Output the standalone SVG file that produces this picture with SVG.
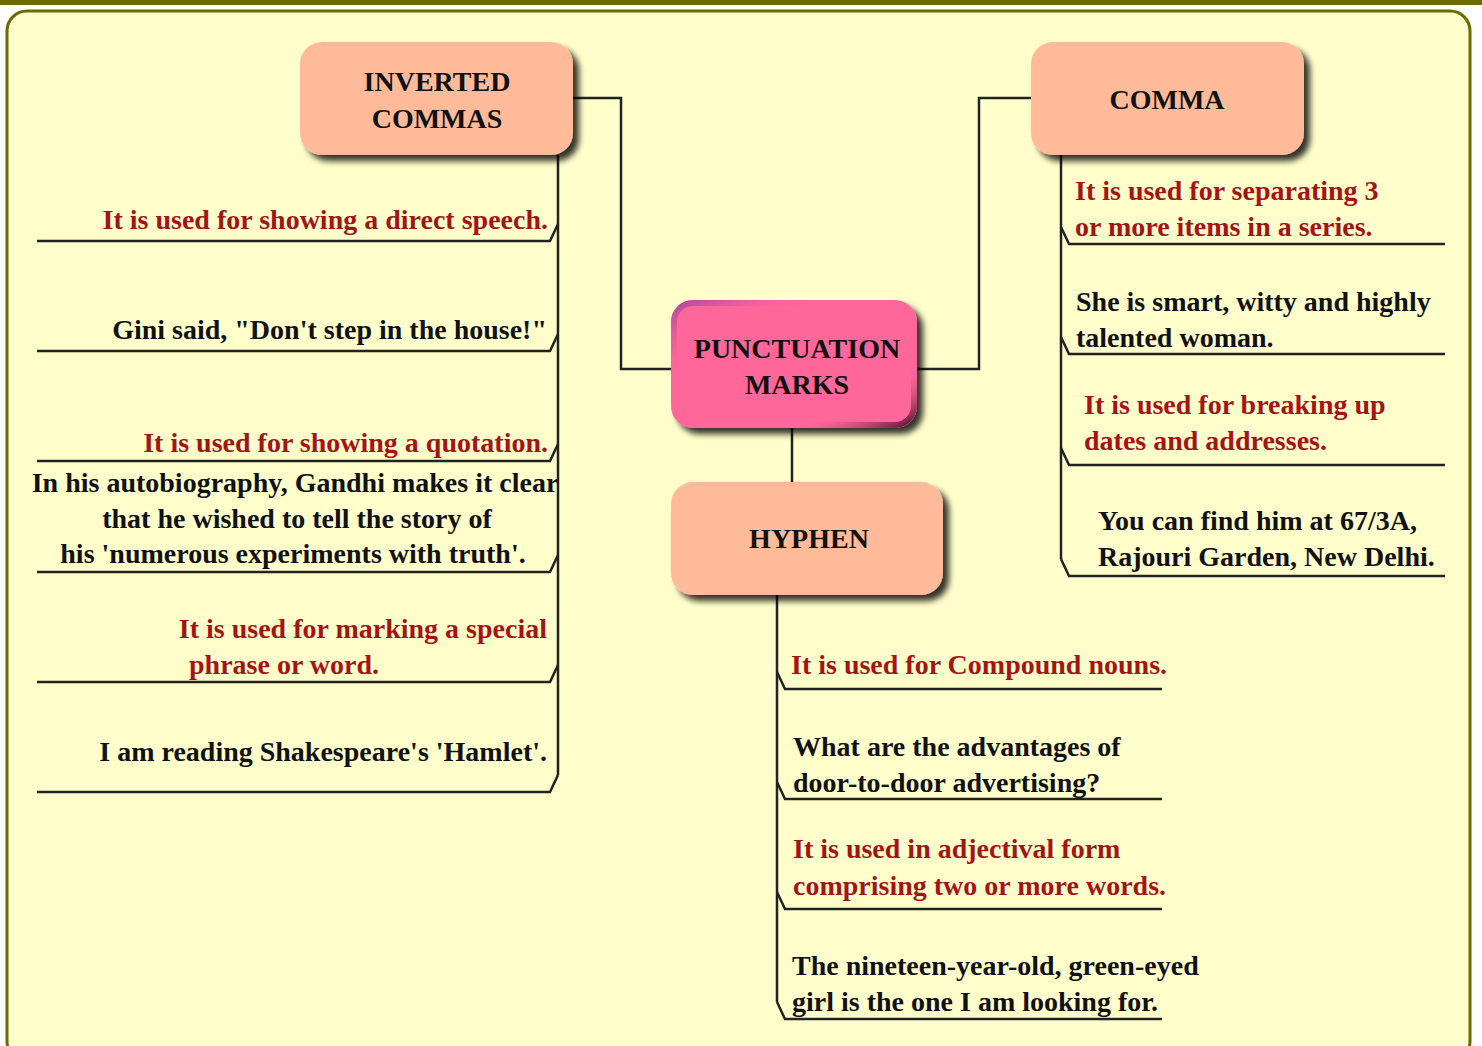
<svg xmlns="http://www.w3.org/2000/svg" width="1482" height="1046" viewBox="0 0 1482 1046">
<defs>
<style>
.bg{fill:#ffffcc;stroke:#6b6b00;stroke-width:3}
.node{fill:#ffbb99}
.title{font-family:"Liberation Serif","Times New Roman",serif;font-weight:bold;font-size:28px;fill:#111;text-anchor:middle}
.t{font-family:"Liberation Serif","Times New Roman",serif;font-weight:bold;font-size:28px}
.red{fill:#a51414}
.blk{fill:#111}
.ln{fill:none;stroke:#222;stroke-width:2.5}
</style>
<filter id="sh" x="-10%" y="-10%" width="130%" height="140%">
<feGaussianBlur in="SourceAlpha" stdDeviation="3"/>
<feOffset dx="6" dy="6" result="b"/>
<feComponentTransfer><feFuncA type="linear" slope="0.8"/></feComponentTransfer>
<feMerge><feMergeNode/><feMergeNode in="SourceGraphic"/></feMerge>
</filter>
<linearGradient id="bev" x1="0" y1="0" x2="1" y2="1">
<stop offset="0" stop-color="#b04a9c"/>
<stop offset="0.3" stop-color="#ff6699" stop-opacity="0"/>
<stop offset="0.75" stop-color="#ff6699" stop-opacity="0"/>
<stop offset="1" stop-color="#5a1030"/>
</linearGradient>
</defs>
<rect x="0" y="0" width="1482" height="5" fill="#6b6b00"/>
<rect class="bg" x="7" y="11" width="1463" height="1050" rx="20"/>

<g id="connectors">
<path class="ln" d="M573,98 H621 V369 H671"/>
<path class="ln" d="M917,369 H979 V98 H1031"/>
<path class="ln" d="M792,428 V482"/>
<path class="ln" d="M558,155 V775"/>
<path class="ln" d="M37,241 H550 L558,224"/>
<path class="ln" d="M37,351 H550 L558,334"/>
<path class="ln" d="M37,461 H550 L558,444"/>
<path class="ln" d="M37,572 H550 L558,555"/>
<path class="ln" d="M37,682 H550 L558,665"/>
<path class="ln" d="M37,792 H550 L558,775"/>
<path class="ln" d="M1061,155 V559"/>
<path class="ln" d="M1061,227 L1069,244 H1445"/>
<path class="ln" d="M1061,337 L1069,354 H1445"/>
<path class="ln" d="M1061,448 L1069,465 H1445"/>
<path class="ln" d="M1061,559 L1069,576 H1445"/>
<path class="ln" d="M777,595 V1002"/>
<path class="ln" d="M777,672 L785,689 H1162"/>
<path class="ln" d="M777,782 L785,799 H1162"/>
<path class="ln" d="M777,892 L785,909 H1162"/>
<path class="ln" d="M777,1002 L785,1019 H1162"/>
</g>

<g id="node-inverted-commas">
<rect class="node" x="300" y="42" width="273" height="113" rx="22" filter="url(#sh)"/>
<text class="title" x="437" y="91">INVERTED</text>
<text class="title" x="437" y="128">COMMAS</text>
</g>
<g id="node-comma">
<rect class="node" x="1031" y="42" width="273" height="113" rx="22" filter="url(#sh)"/>
<text class="title" x="1167" y="109">COMMA</text>
</g>
<g id="node-punctuation">
<rect x="671" y="300" width="246" height="128" rx="22" fill="#ff6699" filter="url(#sh)"/>
<rect x="674" y="303" width="240" height="122" rx="19" fill="none" stroke="url(#bev)" stroke-width="6"/>
<text class="title" x="797" y="358">PUNCTUATION</text>
<text class="title" x="797" y="394">MARKS</text>
</g>
<g id="node-hyphen">
<rect class="node" x="671" y="482" width="272" height="113" rx="22" filter="url(#sh)"/>
<text class="title" x="809" y="548">HYPHEN</text>
</g>

<g id="inverted-items">
<text class="t red" x="548" y="229" text-anchor="end">It is used for showing a direct speech.</text>
<text class="t blk" x="547" y="339" text-anchor="end">Gini said, "Don't step in the house!"</text>
<text class="t red" x="548" y="452" text-anchor="end">It is used for showing a quotation.</text>
<text class="t blk" x="295" y="492" text-anchor="middle">In his autobiography, Gandhi makes it clear</text>
<text class="t blk" x="297" y="528" text-anchor="middle">that he wished to tell the story of</text>
<text class="t blk" x="293" y="563" text-anchor="middle">his 'numerous experiments with truth'.</text>
<text class="t red" x="547" y="638" text-anchor="end">It is used for marking a special</text>
<text class="t red" x="189" y="674">phrase or word.</text>
<text class="t blk" x="547" y="761" text-anchor="end">I am reading Shakespeare's 'Hamlet'.</text>
</g>

<g id="comma-items">
<text class="t red" x="1075" y="200">It is used for separating 3</text>
<text class="t red" x="1075" y="236">or more items in a series.</text>
<text class="t blk" x="1076" y="311">She is smart, witty and highly</text>
<text class="t blk" x="1076" y="347">talented woman.</text>
<text class="t red" x="1084" y="414">It is used for breaking up</text>
<text class="t red" x="1084" y="450">dates and addresses.</text>
<text class="t blk" x="1098" y="530">You can find him at 67/3A,</text>
<text class="t blk" x="1098" y="566">Rajouri Garden, New Delhi.</text>
</g>

<g id="hyphen-items">
<text class="t red" x="791" y="674">It is used for Compound nouns.</text>
<text class="t blk" x="793" y="756">What are the advantages of</text>
<text class="t blk" x="793" y="792">door-to-door advertising?</text>
<text class="t red" x="793" y="858">It is used in adjectival form</text>
<text class="t red" x="793" y="895">comprising two or more words.</text>
<text class="t blk" x="792" y="975">The nineteen-year-old, green-eyed</text>
<text class="t blk" x="792" y="1011">girl is the one I am looking for.</text>
</g>
</svg>
